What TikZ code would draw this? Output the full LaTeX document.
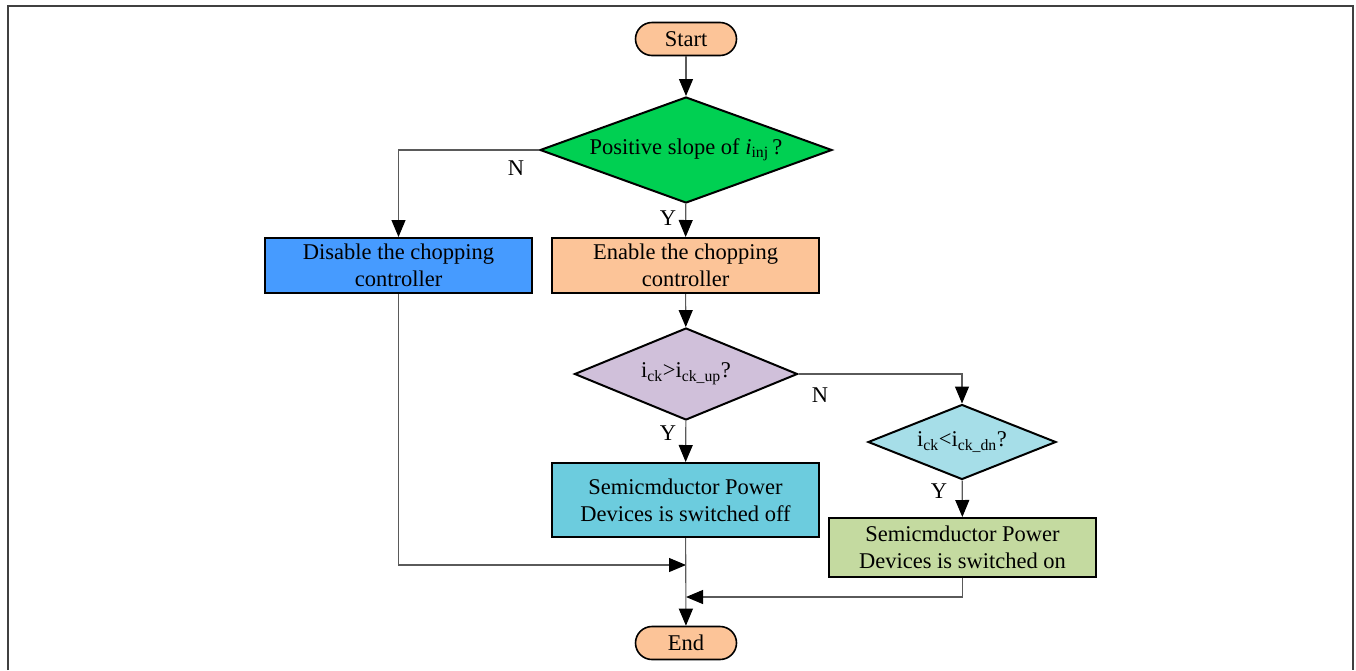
\documentclass[tikz,border=0pt]{standalone}
\usepackage{fontspec}
\setmainfont{Liberation Serif}
\usetikzlibrary{shapes.geometric,shapes.misc,arrows.meta}
\definecolor{peach}{RGB}{252,196,152}
\definecolor{dgreen}{RGB}{0,208,82}
\definecolor{dblue}{RGB}{70,155,255}
\definecolor{lavender}{RGB}{208,192,218}
\definecolor{lcyan}{RGB}{166,222,232}
\definecolor{dcyan}{RGB}{108,204,222}
\definecolor{lgreen}{RGB}{196,218,160}
\definecolor{linegray}{RGB}{90,90,90}

\begin{document}
\begin{tikzpicture}[x=1pt, y=-1pt,
  every node/.style={font=\fontsize{22.5}{27}\selectfont, inner sep=0pt},
  term/.style={draw, line width=1.6pt, rounded rectangle, minimum width=101pt, minimum height=33pt},
  proc/.style={draw, line width=2pt, rectangle, minimum width=267pt, align=center},
  dec/.style={draw, line width=2pt, diamond},
  conn/.style={draw=linegray, line width=1.1pt, -{Triangle[length=17pt,width=14pt,color=black]}}]
\useasboundingbox (0,0) rectangle (1356,670);
\draw[line width=2pt, black!75] (8,670) -- (8,6) -- (1353,6) -- (1353,670);
\node[term, fill=peach] (NStart) at (686,39) {Start};
\node[dec, fill=dgreen, aspect=2.75, minimum width=292pt, minimum height=106pt] (NDec1) at (686,150) {Positive slope of \textit{i}\textsubscript{inj}\,?};
\node[proc, fill=dblue, minimum height=55pt] (NDis) at (398.5,265.5) {Disable the chopping\\controller};
\node[proc, fill=peach, minimum height=55pt] (NEn) at (685.5,265.5) {Enable the chopping\\controller};
\node[dec, fill=lavender, aspect=2.42, minimum width=223pt, minimum height=92pt] (NDec2) at (686,374) {i\textsubscript{ck}>i\textsubscript{ck\_up}?};
\node[dec, fill=lcyan, aspect=2.5, minimum width=188pt, minimum height=75pt] (NDec3) at (962,442) {i\textsubscript{ck}<i\textsubscript{ck\_dn}?};
\node[proc, fill=dcyan, minimum height=74pt] (NOff) at (685.5,500) {Semicmductor Power\\Devices is switched off};
\node[proc, fill=lgreen, minimum height=59pt] (NOn) at (962.5,547.5) {Semicmductor Power\\Devices is switched on};
\node[term, fill=peach] (NEnd) at (686,643) {End};
\coordinate (J1) at (686,565);
\coordinate (J2) at (686,597);
% Y / N labels
\node (LN1) at (516,168) {N};
\node (LY1) at (668,218) {Y};
\node (LN2) at (820,395) {N};
\node (LY2) at (668,433) {Y};
\node (LY3) at (939,491) {Y};
% connectors
\draw[conn] (NStart) -- (NDec1);
\draw[conn] (NDec1.west) -| (NDis.north);
\draw[conn] (NDec1) -- (NEn);
\draw[conn] (NEn) -- (NDec2);
\draw[conn] (NDec2.east) -| (NDec3.north);
\draw[conn] (NDec2) -- (NOff);
\draw[conn] (NDec3) -- (NOn);
\draw[conn] (NDis.south) |- (J1);
\draw[conn] (NOn.south) |- (J2);
\draw[conn] (NOff) -- (NEnd);
\end{tikzpicture}
\end{document}
